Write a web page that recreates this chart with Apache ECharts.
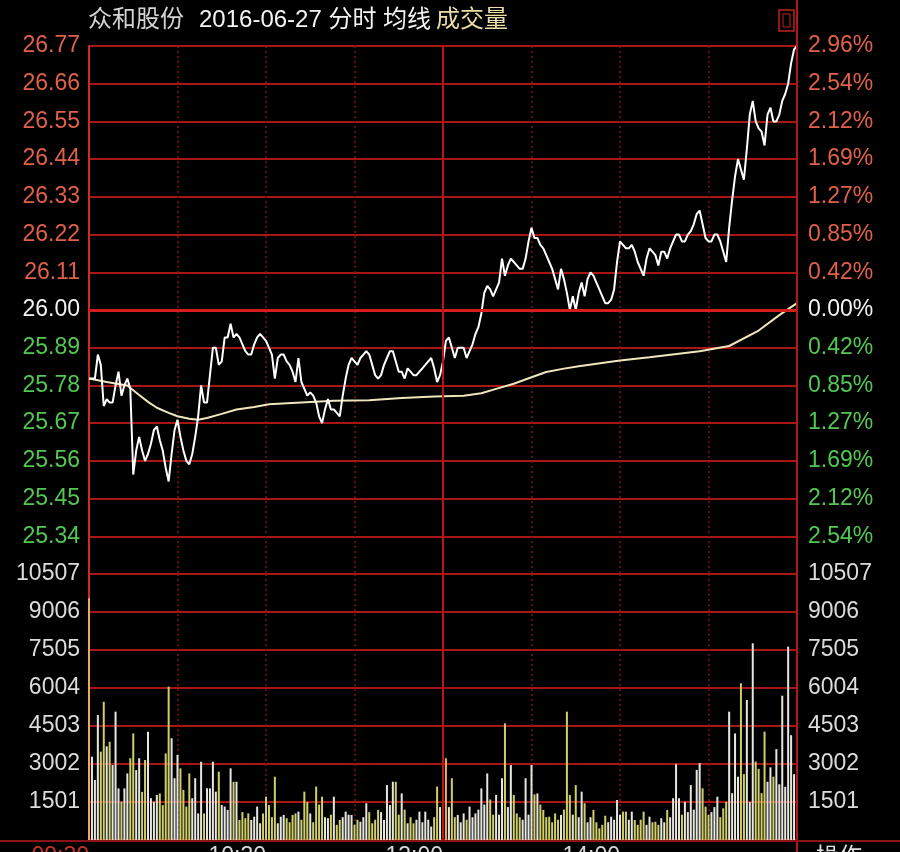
<!DOCTYPE html>
<html><head><meta charset="utf-8">
<script src="https://cdn.jsdelivr.net/npm/echarts@6/dist/echarts.min.js"></script>
<style>html,body{margin:0;padding:0;background:#000;}#c{width:900px;height:852px;}</style>
</head><body><div id="c"></div>
<script>
const stockName = '众和股份';
const tradeDate = '2016-06-27';
const preClose = 26.00;

const prices = [
25.80,25.80,25.80,25.87,25.84,25.72,25.74,25.73,25.73,25.78,
25.82,25.75,25.78,25.80,25.77,25.52,25.59,25.63,25.59,25.56,
25.58,25.61,25.65,25.66,25.62,25.59,25.54,25.50,25.58,25.65,
25.68,25.63,25.59,25.56,25.55,25.58,25.63,25.69,25.78,25.73,
25.73,25.81,25.89,25.89,25.84,25.85,25.92,25.92,25.96,25.92,
25.93,25.92,25.90,25.88,25.87,25.87,25.90,25.92,25.93,25.92,
25.91,25.89,25.87,25.80,25.86,25.87,25.87,25.85,25.84,25.82,
25.79,25.86,25.79,25.77,25.75,25.76,25.75,25.73,25.69,25.67,
25.71,25.74,25.71,25.71,25.70,25.69,25.75,25.80,25.84,25.86,
25.85,25.84,25.86,25.87,25.88,25.87,25.84,25.81,25.80,25.81,
25.84,25.86,25.88,25.88,25.85,25.82,25.82,25.80,25.83,25.82,
25.81,25.81,25.82,25.83,25.84,25.85,25.86,25.83,25.79,25.81,
25.85,25.91,25.92,25.89,25.86,25.89,25.89,25.89,25.86,25.88,
25.90,25.93,25.95,25.99,26.05,26.07,26.06,26.04,26.06,26.08,
26.15,26.10,26.13,26.15,26.14,26.13,26.12,26.12,26.15,26.20,
26.24,26.21,26.21,26.19,26.18,26.16,26.14,26.12,26.09,26.06,
26.12,26.09,26.05,26.00,26.04,26.00,26.05,26.08,26.04,26.09,
26.11,26.10,26.08,26.06,26.04,26.02,26.02,26.03,26.06,26.14,
26.20,26.19,26.18,26.18,26.19,26.17,26.14,26.12,26.10,26.15,
26.18,26.17,26.16,26.13,26.17,26.17,26.15,26.18,26.20,26.22,
26.22,26.20,26.20,26.22,26.23,26.25,26.28,26.29,26.25,26.21,
26.20,26.20,26.22,26.22,26.20,26.17,26.14,26.24,26.32,26.39,
26.44,26.41,26.38,26.47,26.57,26.61,26.55,26.53,26.52,26.48,
26.57,26.59,26.55,26.55,26.57,26.61,26.63,26.66,26.72,26.76,
26.77
];

const avgTimes = ['09:30','09:36','09:43','09:47','09:50','09:53','09:57','10:00','10:04','10:07',
'10:10','10:15','10:20','10:26','10:31','10:42','10:53','11:05','11:16','11:27',
'13:07','13:13','13:18','13:24','13:30','13:35','13:41','13:46','14:00','14:10',
'14:27','14:37','14:47','14:54','15:00'];
const avgPrices = [25.800,25.790,25.780,25.752,25.732,25.715,25.700,25.690,25.683,25.680,
25.685,25.697,25.710,25.717,25.725,25.730,25.735,25.737,25.743,25.748,
25.750,25.757,25.770,25.785,25.804,25.819,25.829,25.836,25.853,25.862,
25.880,25.895,25.940,25.985,26.020];

const volumes = [
9550,3290,2370,4940,3490,5460,3700,3880,2960,5070,
2040,1510,2040,2630,3230,4210,2760,3230,1900,3160,
4280,1650,1510,1780,1840,1380,3420,6060,4020,2440,
3360,2830,1980,1320,2630,1650,2440,1050,3090,1050,
2040,2040,3090,1910,2700,1380,1320,1190,2830,2300,
2300,790,1100,860,1050,790,920,1320,660,1050,
1710,1380,900,2500,660,920,990,860,700,990,
1050,1120,800,1910,1500,1050,700,2110,1400,1710,
900,860,1000,1710,600,790,900,1120,1000,990,
600,800,720,900,1450,1100,660,800,1190,1100,
790,2170,1380,2300,2300,1000,1840,1200,660,900,
660,800,1120,700,1120,800,530,900,2110,1300,
1000,3230,1300,2440,900,990,700,1050,800,1320,
900,1050,1200,2040,1400,2630,1600,1000,1780,1000,
2440,4610,1300,2960,1780,1050,900,800,2440,1000,
2960,1800,1840,1400,1190,900,920,700,1050,800,
990,1200,5070,1780,1000,2170,900,1910,1450,700,
900,1190,700,460,600,960,700,920,800,1580,
1000,1120,1120,800,1120,790,600,800,1120,600,
920,700,720,600,860,700,1190,900,1650,3000,
1650,1000,1510,1100,2170,1200,2770,3040,2040,1320,
990,1100,1300,1710,900,1250,1500,5070,1850,4210,
2500,6190,2600,5530,1500,7770,3100,2810,1850,4280,
2300,2870,2500,3590,2200,5700,2100,7640,4140,2600,
6910
];

const priceMin = -0.77, priceMax = 0.77, priceStep = 0.11;
const volMax = 10507, volStep = 1501;
const axisTimes = ['09:30','10:30','11:30','14:00'];
const axisTexts = ['09:30','10:30','13:00','14:00'];

function hm(m){const h=Math.floor(m/60),mm=m%60;return (h<10?'0':'')+h+':'+(mm<10?'0':'')+mm;}
const times = [];
for (let m = 0; m <= 120; m++) times.push(hm(9*60+30+m));
for (let m = 1; m <= 120; m++) times.push(hm(13*60+m));

const RED = '#e0604a', GREEN = '#52c852', WHITE = '#f2f2f2', VOLC = '#dcdcdc';
const GRID = '#a81616';
const FONT = '"Liberation Sans", Arial, "Noto Sans CJK SC", sans-serif';

function signColor(v){ v = parseFloat(v); if (v > 0.001) return RED; if (v < -0.001) return GREEN; return WHITE; }

const vSplit = {show:true, interval:(i)=> i%30===0 && i>0 && i<240 && i!==120,
  lineStyle:{color:'#7e1616', width:1.5, type:[2,3]}};

const chart = echarts.init(document.getElementById('c'));
chart.setOption({
  animation:false,
  backgroundColor:'#000',
  title:{left:88, top:8, padding:0,
    text:'{a|'+stockName+'}   {b|'+tradeDate+' 分时 均线} {c|成交量}',
    textStyle:{fontWeight:'normal', rich:{
      a:{fontSize:24, color:'#d4d4d4', fontFamily:FONT, fontWeight:'normal'},
      b:{fontSize:24, color:'#f4f4f4', fontFamily:FONT, fontWeight:'normal'},
      c:{fontSize:24, color:'#eadfa6', fontFamily:FONT, fontWeight:'normal'}}}},
  grid:[{left:89, right:103, top:46, height:528, outerBoundsMode:'none', containLabel:false},
        {left:89, right:103, top:574, height:266, outerBoundsMode:'none', containLabel:false}],
  xAxis:[
    {gridIndex:0, type:'category', data:times, boundaryGap:false,
     axisLine:{show:false}, axisTick:{show:false}, axisLabel:{show:false}, splitLine:vSplit},
    {gridIndex:1, type:'category', data:times, boundaryGap:false,
     axisLine:{show:true, lineStyle:{color:GRID, width:2}}, axisTick:{show:false},
     axisLabel:{show:true, interval:(i,v)=>axisTimes.indexOf(v)>=0, align:'right', margin:5,
       fontSize:23, fontFamily:FONT,
       formatter:(v)=>axisTexts[axisTimes.indexOf(v)],
       color:(v)=> v==='09:30' ? '#c83228' : '#d8d8d8'},
     splitLine:vSplit}
  ],
  yAxis:[
    {gridIndex:0, type:'value', position:'left', min:priceMin, max:priceMax, interval:priceStep,
     axisLine:{show:true, lineStyle:{color:'#c8301c', width:2}}, axisTick:{show:false},
     splitLine:{show:true, lineStyle:{color:GRID, width:2}},
     axisLabel:{showMinLabel:false, margin:9, fontSize:23, fontFamily:FONT,
       formatter:(v)=>(preClose+v).toFixed(2), color:(v)=>signColor(v)}},
    {gridIndex:0, type:'value', position:'right', min:priceMin, max:priceMax, interval:priceStep,
     axisLine:{show:false}, axisTick:{show:false}, splitLine:{show:false},
     axisLabel:{showMinLabel:false, margin:11, fontSize:23, fontFamily:FONT,
       formatter:(v)=>Math.abs(v/preClose*100).toFixed(2)+'%', color:(v)=>signColor(v)}},
    {gridIndex:1, type:'value', position:'left', min:0, max:volMax, interval:volStep,
     axisLine:{show:true, lineStyle:{color:'#c8301c', width:2}}, axisTick:{show:false},
     splitLine:{show:true, lineStyle:{color:GRID, width:2}},
     axisLabel:{showMinLabel:false, margin:9, fontSize:23, fontFamily:FONT, color:VOLC,
       formatter:(v)=>String(Math.round(v))}},
    {gridIndex:1, type:'value', position:'right', min:0, max:volMax, interval:volStep,
     axisLine:{show:false}, axisTick:{show:false}, splitLine:{show:false},
     axisLabel:{showMinLabel:false, margin:11, fontSize:23, fontFamily:FONT, color:VOLC,
       formatter:(v)=>String(Math.round(v))}}
  ],
  series:[
    {type:'line', xAxisIndex:0, yAxisIndex:0, symbol:'none', z:4,
     data:prices.map(p=>+(p-preClose).toFixed(2)),
     lineStyle:{color:'#ffffff', width:2},
     markLine:{silent:true, symbol:['none','none'], label:{show:false},
       data:[{yAxis:0, lineStyle:{color:'#d61e1e', width:3, type:'solid'}},
             {xAxis:'11:30', lineStyle:{color:'#b41818', width:2, type:'solid'}}]}},
    {type:'line', xAxisIndex:0, yAxisIndex:0, symbol:'none', z:3,
     data:avgTimes.map((t,k)=>[times.indexOf(t), +(avgPrices[k]-preClose).toFixed(3)]),
     lineStyle:{color:'#efe6bc', width:2}},
    {type:'bar', xAxisIndex:1, yAxisIndex:2, barWidth:2, z:3,
     data:volumes.map((v,i)=>({value:v, itemStyle:{color:
       (i===0||i===121) ? '#f0a860' : (i>0 && prices[i]<prices[i-1] ? '#cfcf6a' : '#e6e6de')}})),
     markLine:{silent:true, symbol:['none','none'], label:{show:false},
       data:[{xAxis:'11:30', lineStyle:{color:'#b41818', width:2, type:'solid'}}]}}
  ],
  graphic:[
    {type:'line', shape:{x1:797, y1:0, x2:797, y2:852}, style:{stroke:'#b41818', lineWidth:2}, z:10},
    {type:'line', shape:{x1:0, y1:841, x2:900, y2:841}, style:{stroke:'#8a1414', lineWidth:2}, z:10},
    {type:'rect', shape:{x:779, y:10, width:15, height:21}, style:{fill:'none', stroke:'#c02020', lineWidth:1.5}, z:10},
    {type:'rect', shape:{x:783, y:14, width:7, height:13}, style:{fill:'none', stroke:'#c02020', lineWidth:1}, z:10},
    {type:'text', left:816, top:846, style:{text:'操作', fill:'#e0e0e0', font:'23px '+FONT}, z:10}
  ]
});
</script></body></html>
